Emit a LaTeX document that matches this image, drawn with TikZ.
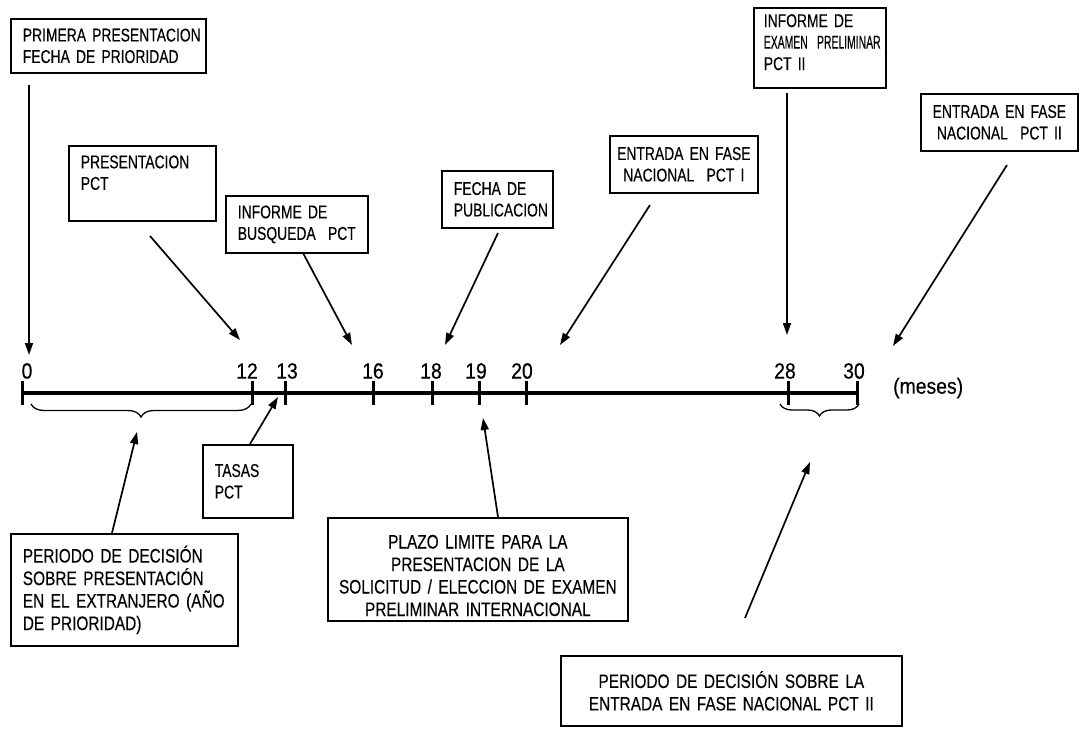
\documentclass[tikz,border=0pt]{standalone}
\usepackage{fontspec}
\usepackage{graphicx}
\setmainfont{Liberation Sans}
\newfontfamily\topfont[FakeStretch=0.75,FakeBold=0.3]{Liberation Sans}
\newfontfamily\botfont[FakeStretch=0.79,FakeBold=0.3]{Liberation Sans}
\newfontfamily\numfont[FakeStretch=0.88,FakeBold=0.4]{Liberation Sans}
\usetikzlibrary{arrows.meta,decorations.pathreplacing,calc}
\tikzset{
  box/.style={draw, line width=1.7pt, anchor=north west, inner xsep=12pt, inner ysep=0pt, align=left,
    execute at begin node={\lineskiplimit=-30pt}},
  tbox/.style={box, font=\topfont\fontsize{18.5}{21.5}\selectfont},
  bbox/.style={box, font=\botfont\fontsize{19.5}{22.5}\selectfont},
  num/.style={font=\numfont\fontsize{22}{24}\selectfont, inner sep=0pt},
  arr/.style={-{Triangle[length=12pt,width=8pt]}, line width=1.7pt},
  tick/.style={line width=3pt},
  axis/.style={line width=3.5pt},
  brc/.style={decorate, line width=1.3pt, decoration={brace, mirror, amplitude=13pt}}
}
\begin{document}
\begin{tikzpicture}[x=1pt,y=-1pt]
\fill[white] (0,0) rectangle (1082,730);
\useasboundingbox (0,0) rectangle (1082,730);

% top boxes
\node[tbox, minimum width=195pt, minimum height=54pt, text width=171pt] (b1) at (10,18) {\mbox{PRIMERA PRESENTACION}\\\mbox{FECHA DE PRIORIDAD}};
\node[tbox, minimum width=147pt, minimum height=75pt, text width=123pt] (b2) at (68,145) {PRESENTACION\\PCT\\\mbox{}};
\node[tbox, minimum width=142pt, minimum height=57pt, text width=118pt] (b3) at (225,195) {\mbox{INFORME DE}\\\mbox{BUSQUEDA~ PCT}};
\node[tbox, minimum width=111pt, minimum height=57pt, text width=87pt] (b4) at (441,170) {\mbox{FECHA DE}\\\mbox{PUBLICACION}};
\node[tbox, align=center, inner xsep=3pt, minimum width=148pt, minimum height=57pt, text width=142pt] (b5) at (609,135) {\mbox{ENTRADA EN FASE}\\\mbox{NACIONAL~ PCT I}};
\node[tbox, inner xsep=10pt, minimum width=132pt, minimum height=80pt, text width=112pt] (b6) at (753,7) {\mbox{INFORME DE}\\\scalebox{0.75}[1]{EXAMEN~ PRELIMINAR}\\\mbox{PCT II}\\[-10pt]\mbox{}};
\node[tbox, align=center, inner xsep=3pt, minimum width=157pt, minimum height=57pt, text width=151pt] (b7) at (920,93) {\mbox{ENTRADA EN FASE}\\\mbox{NACIONAL~ PCT II}};

% bottom boxes
\node[tbox, minimum width=90pt, minimum height=73pt, text width=66pt] (tas) at (202,444) {TASAS\\PCT};
\node[bbox, minimum width=227pt, minimum height=112pt, text width=203pt] (per1) at (10,533) {\mbox{PERIODO DE DECISIÓN}\\\mbox{SOBRE PRESENTACIÓN}\\\mbox{EN EL EXTRANJERO (AÑO}\\\mbox{DE PRIORIDAD)}};
\node[bbox, align=center, inner xsep=3pt, minimum width=300pt, minimum height=103pt, text width=294pt] (plazo) at (327,517) {\mbox{\rule{0pt}{26pt}PLAZO LIMITE PARA LA}\\\mbox{PRESENTACION DE LA}\\\mbox{SOLICITUD / ELECCION DE EXAMEN}\\\mbox{PRELIMINAR INTERNACIONAL}};
\node[bbox, align=center, inner xsep=3pt, minimum width=341pt, minimum height=70pt, text width=335pt] (per2) at (560,655) {\mbox{PERIODO DE DECISIÓN SOBRE LA}\\\mbox{ENTRADA EN FASE NACIONAL PCT II}};

% timeline
\coordinate (t0) at (22,393);
\coordinate (t12) at (252,393);
\coordinate (t13) at (285,393);
\coordinate (t16) at (373,393);
\coordinate (t18) at (432,393);
\coordinate (t19) at (479,393);
\coordinate (t20) at (526,393);
\coordinate (t28) at (788,393);
\coordinate (t30) at (857,393);
\draw[axis] (t0) -- (t30);
\foreach \t in {t0,t12,t13,t16,t18,t19,t20,t28,t30}
  \draw[tick] ($(\t)+(0,-12)$) -- ($(\t)+(0,12)$);

\node[num] (n0) at (27,371) {0};
\node[num] (n12) at (247,371) {12};
\node[num] (n13) at (287,371) {13};
\node[num] (n16) at (373,371) {16};
\node[num] (n18) at (431,371) {18};
\node[num] (n19) at (476,371) {19};
\node[num] (n20) at (522,371) {20};
\node[num] (n28) at (785,371) {28};
\node[num] (n30) at (854,371) {30};
\node[num, anchor=west] (mes) at (893,388) {(meses)};

% braces
\draw[brc] (31,404) -- (251,404);
\draw[brc, decoration={brace, mirror, amplitude=12pt}] (780,404) -- (859,404);

% arrow end points
\coordinate (s1) at (29,85);   \coordinate (e1) at (29,355);
\coordinate (s2) at (150,236); \coordinate (e2) at (240,340);
\coordinate (s3) at (303,253); \coordinate (e3) at (352,345);
\coordinate (s4) at (498,233); \coordinate (e4) at (445,345);
\coordinate (s5) at (650,205); \coordinate (e5) at (560,345);
\coordinate (s6) at (787,93);  \coordinate (e6) at (787,335);
\coordinate (s7) at (1007,165);\coordinate (e7) at (893,346);
\coordinate (s8) at (250,444); \coordinate (e8) at (278,397);
\coordinate (s9) at (112,533); \coordinate (e9) at (137,432);
\coordinate (s10) at (498,517);\coordinate (e10) at (483,418);
\coordinate (s11) at (745,618);\coordinate (e11) at (810,462);

\foreach \i in {1,...,11}
  \draw[arr] (s\i) -- (e\i);
\end{tikzpicture}
\end{document}
